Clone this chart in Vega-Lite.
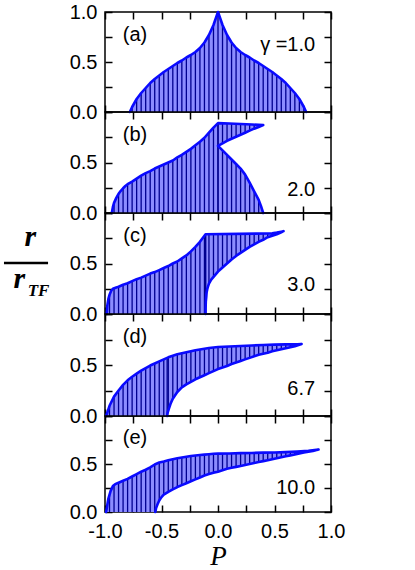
{
"$schema": "https://vega.github.io/schema/vega-lite/v6.json",
"padding": {"left": 1, "top": 1, "right": 0, "bottom": 0},
"bounds": "flush",
"spacing": 0,
"config": {
  "view": {"stroke": "black", "strokeWidth": 1.5},
  "axis": {"domain": false, "grid": false, "ticks": true, "tickColor": "black", "tickWidth": 1.5, "tickSize": -7, "labelFont": "Liberation Sans", "labelFontSize": 20, "labelColor": "black", "labelFlush": false, "labelOverlap": false},
  "axisX": {"labelPadding": 16},
  "axisY": {"labelPadding": 15},
  "text": {"font": "Liberation Sans", "fontSize": 20, "color": "black"}
},
"datasets": {
"one": [{}],
"hatch": [
{"p":"a","s":1,"P":-0.78,"lo":0,"hi":0},{"p":"a","s":1,"P":-0.76,"lo":0,"hi":0.05},{"p":"a","s":1,"P":-0.72,"lo":0,"hi":0.13},{"p":"a","s":1,"P":-0.68,"lo":0,"hi":0.19},{"p":"a","s":1,"P":-0.64,"lo":0,"hi":0.24},{"p":"a","s":1,"P":-0.6,"lo":0,"hi":0.29},{"p":"a","s":1,"P":-0.56,"lo":0,"hi":0.33},{"p":"a","s":1,"P":-0.52,"lo":0,"hi":0.365},{"p":"a","s":1,"P":-0.48,"lo":0,"hi":0.4},{"p":"a","s":1,"P":-0.44,"lo":0,"hi":0.43},{"p":"a","s":1,"P":-0.4,"lo":0,"hi":0.46},{"p":"a","s":1,"P":-0.36,"lo":0,"hi":0.49},{"p":"a","s":1,"P":-0.32,"lo":0,"hi":0.515},{"p":"a","s":1,"P":-0.28,"lo":0,"hi":0.545},{"p":"a","s":1,"P":-0.24,"lo":0,"hi":0.57},{"p":"a","s":1,"P":-0.2,"lo":0,"hi":0.6},{"p":"a","s":1,"P":-0.16,"lo":0,"hi":0.64},{"p":"a","s":1,"P":-0.12,"lo":0,"hi":0.695},{"p":"a","s":1,"P":-0.08,"lo":0,"hi":0.77},{"p":"a","s":1,"P":-0.04,"lo":0,"hi":0.87},{"p":"a","s":1,"P":0,"lo":0,"hi":1.0},{"p":"a","s":1,"P":0.04,"lo":0,"hi":0.87},{"p":"a","s":1,"P":0.08,"lo":0,"hi":0.77},{"p":"a","s":1,"P":0.12,"lo":0,"hi":0.695},{"p":"a","s":1,"P":0.16,"lo":0,"hi":0.64},{"p":"a","s":1,"P":0.2,"lo":0,"hi":0.6},{"p":"a","s":1,"P":0.24,"lo":0,"hi":0.57},{"p":"a","s":1,"P":0.28,"lo":0,"hi":0.545},{"p":"a","s":1,"P":0.32,"lo":0,"hi":0.515},{"p":"a","s":1,"P":0.36,"lo":0,"hi":0.49},{"p":"a","s":1,"P":0.4,"lo":0,"hi":0.46},{"p":"a","s":1,"P":0.44,"lo":0,"hi":0.43},{"p":"a","s":1,"P":0.48,"lo":0,"hi":0.4},{"p":"a","s":1,"P":0.52,"lo":0,"hi":0.365},{"p":"a","s":1,"P":0.56,"lo":0,"hi":0.33},{"p":"a","s":1,"P":0.6,"lo":0,"hi":0.29},{"p":"a","s":1,"P":0.64,"lo":0,"hi":0.24},{"p":"a","s":1,"P":0.68,"lo":0,"hi":0.19},{"p":"a","s":1,"P":0.72,"lo":0,"hi":0.13},{"p":"a","s":1,"P":0.76,"lo":0,"hi":0.05},{"p":"a","s":1,"P":0.78,"lo":0,"hi":0},
{"p":"b","s":1,"P":-0.94,"lo":0,"hi":0},{"p":"b","s":1,"P":-0.92,"lo":0,"hi":0.1},{"p":"b","s":1,"P":-0.88,"lo":0,"hi":0.19},{"p":"b","s":1,"P":-0.84,"lo":0,"hi":0.245},{"p":"b","s":1,"P":-0.8,"lo":0,"hi":0.285},{"p":"b","s":1,"P":-0.76,"lo":0,"hi":0.31},{"p":"b","s":1,"P":-0.72,"lo":0,"hi":0.34},{"p":"b","s":1,"P":-0.68,"lo":0,"hi":0.37},{"p":"b","s":1,"P":-0.64,"lo":0,"hi":0.395},{"p":"b","s":1,"P":-0.6,"lo":0,"hi":0.415},{"p":"b","s":1,"P":-0.56,"lo":0,"hi":0.44},{"p":"b","s":1,"P":-0.52,"lo":0,"hi":0.46},{"p":"b","s":1,"P":-0.48,"lo":0,"hi":0.48},{"p":"b","s":1,"P":-0.44,"lo":0,"hi":0.5},{"p":"b","s":1,"P":-0.4,"lo":0,"hi":0.52},{"p":"b","s":1,"P":-0.36,"lo":0,"hi":0.55},{"p":"b","s":1,"P":-0.32,"lo":0,"hi":0.575},{"p":"b","s":1,"P":-0.28,"lo":0,"hi":0.605},{"p":"b","s":1,"P":-0.24,"lo":0,"hi":0.635},{"p":"b","s":1,"P":-0.2,"lo":0,"hi":0.67},{"p":"b","s":1,"P":-0.16,"lo":0,"hi":0.705},{"p":"b","s":1,"P":-0.12,"lo":0,"hi":0.745},{"p":"b","s":1,"P":-0.08,"lo":0,"hi":0.795},{"p":"b","s":1,"P":-0.04,"lo":0,"hi":0.845},{"p":"b","s":1,"P":0,"lo":0,"hi":0.89},
{"p":"b","s":2,"P":0,"lo":0,"hi":0.665},{"p":"b","s":2,"P":0.04,"lo":0,"hi":0.62},{"p":"b","s":2,"P":0.08,"lo":0,"hi":0.575},{"p":"b","s":2,"P":0.12,"lo":0,"hi":0.53},{"p":"b","s":2,"P":0.16,"lo":0,"hi":0.485},{"p":"b","s":2,"P":0.2,"lo":0,"hi":0.44},{"p":"b","s":2,"P":0.24,"lo":0,"hi":0.38},{"p":"b","s":2,"P":0.28,"lo":0,"hi":0.3},{"p":"b","s":2,"P":0.32,"lo":0,"hi":0.215},{"p":"b","s":2,"P":0.36,"lo":0,"hi":0.13},{"p":"b","s":2,"P":0.4,"lo":0,"hi":0},
{"p":"b","s":3,"P":0,"lo":0.665,"hi":0.89},{"p":"b","s":3,"P":0.04,"lo":0.69,"hi":0.888},{"p":"b","s":3,"P":0.08,"lo":0.715,"hi":0.886},{"p":"b","s":3,"P":0.12,"lo":0.735,"hi":0.884},{"p":"b","s":3,"P":0.16,"lo":0.755,"hi":0.882},{"p":"b","s":3,"P":0.2,"lo":0.775,"hi":0.88},{"p":"b","s":3,"P":0.24,"lo":0.795,"hi":0.878},{"p":"b","s":3,"P":0.28,"lo":0.815,"hi":0.876},{"p":"b","s":3,"P":0.32,"lo":0.835,"hi":0.874},{"p":"b","s":3,"P":0.36,"lo":0.852,"hi":0.872},{"p":"b","s":3,"P":0.4,"lo":0.87,"hi":0.87},
{"p":"c","s":1,"P":-0.985,"lo":0,"hi":0},{"p":"c","s":1,"P":-0.96,"lo":0,"hi":0.19},{"p":"c","s":1,"P":-0.92,"lo":0,"hi":0.255},{"p":"c","s":1,"P":-0.88,"lo":0,"hi":0.27},{"p":"c","s":1,"P":-0.84,"lo":0,"hi":0.29},{"p":"c","s":1,"P":-0.8,"lo":0,"hi":0.305},{"p":"c","s":1,"P":-0.76,"lo":0,"hi":0.325},{"p":"c","s":1,"P":-0.72,"lo":0,"hi":0.345},{"p":"c","s":1,"P":-0.68,"lo":0,"hi":0.36},{"p":"c","s":1,"P":-0.64,"lo":0,"hi":0.38},{"p":"c","s":1,"P":-0.6,"lo":0,"hi":0.4},{"p":"c","s":1,"P":-0.56,"lo":0,"hi":0.415},{"p":"c","s":1,"P":-0.52,"lo":0,"hi":0.435},{"p":"c","s":1,"P":-0.48,"lo":0,"hi":0.455},{"p":"c","s":1,"P":-0.44,"lo":0,"hi":0.475},{"p":"c","s":1,"P":-0.4,"lo":0,"hi":0.5},{"p":"c","s":1,"P":-0.36,"lo":0,"hi":0.52},{"p":"c","s":1,"P":-0.32,"lo":0,"hi":0.55},{"p":"c","s":1,"P":-0.28,"lo":0,"hi":0.58},{"p":"c","s":1,"P":-0.24,"lo":0,"hi":0.62},{"p":"c","s":1,"P":-0.2,"lo":0,"hi":0.665},{"p":"c","s":1,"P":-0.16,"lo":0,"hi":0.715},{"p":"c","s":1,"P":-0.12,"lo":0,"hi":0.775},{"p":"c","s":1,"P":-0.11,"lo":0,"hi":0.79},
{"p":"c","s":2,"P":-0.11,"lo":0,"hi":0.79},{"p":"c","s":2,"P":-0.08,"lo":0.3,"hi":0.79},{"p":"c","s":2,"P":-0.04,"lo":0.365,"hi":0.79},{"p":"c","s":2,"P":0,"lo":0.42,"hi":0.79},{"p":"c","s":2,"P":0.04,"lo":0.46,"hi":0.79},{"p":"c","s":2,"P":0.08,"lo":0.5,"hi":0.791},{"p":"c","s":2,"P":0.12,"lo":0.54,"hi":0.791},{"p":"c","s":2,"P":0.16,"lo":0.575,"hi":0.792},{"p":"c","s":2,"P":0.2,"lo":0.605,"hi":0.792},{"p":"c","s":2,"P":0.24,"lo":0.635,"hi":0.793},{"p":"c","s":2,"P":0.28,"lo":0.665,"hi":0.793},{"p":"c","s":2,"P":0.32,"lo":0.69,"hi":0.794},{"p":"c","s":2,"P":0.36,"lo":0.715,"hi":0.794},{"p":"c","s":2,"P":0.4,"lo":0.735,"hi":0.795},{"p":"c","s":2,"P":0.44,"lo":0.76,"hi":0.797},{"p":"c","s":2,"P":0.48,"lo":0.775,"hi":0.8},{"p":"c","s":2,"P":0.52,"lo":0.79,"hi":0.806},{"p":"c","s":2,"P":0.56,"lo":0.81,"hi":0.815},{"p":"c","s":2,"P":0.58,"lo":0.82,"hi":0.82},
{"p":"d","s":1,"P":-0.99,"lo":0,"hi":0},{"p":"d","s":1,"P":-0.96,"lo":0,"hi":0.1},{"p":"d","s":1,"P":-0.92,"lo":0,"hi":0.19},{"p":"d","s":1,"P":-0.88,"lo":0,"hi":0.25},{"p":"d","s":1,"P":-0.84,"lo":0,"hi":0.305},{"p":"d","s":1,"P":-0.8,"lo":0,"hi":0.35},{"p":"d","s":1,"P":-0.76,"lo":0,"hi":0.385},{"p":"d","s":1,"P":-0.72,"lo":0,"hi":0.415},{"p":"d","s":1,"P":-0.68,"lo":0,"hi":0.445},{"p":"d","s":1,"P":-0.64,"lo":0,"hi":0.47},{"p":"d","s":1,"P":-0.6,"lo":0,"hi":0.495},{"p":"d","s":1,"P":-0.56,"lo":0,"hi":0.515},{"p":"d","s":1,"P":-0.52,"lo":0,"hi":0.535},{"p":"d","s":1,"P":-0.48,"lo":0,"hi":0.555},{"p":"d","s":1,"P":-0.45,"lo":0,"hi":0.57},{"p":"d","s":1,"P":-0.44,"lo":0.05,"hi":0.575},{"p":"d","s":1,"P":-0.4,"lo":0.17,"hi":0.59},{"p":"d","s":1,"P":-0.36,"lo":0.235,"hi":0.605},{"p":"d","s":1,"P":-0.32,"lo":0.28,"hi":0.615},{"p":"d","s":1,"P":-0.28,"lo":0.31,"hi":0.625},{"p":"d","s":1,"P":-0.24,"lo":0.335,"hi":0.635},{"p":"d","s":1,"P":-0.2,"lo":0.36,"hi":0.645},{"p":"d","s":1,"P":-0.16,"lo":0.38,"hi":0.652},{"p":"d","s":1,"P":-0.12,"lo":0.4,"hi":0.66},{"p":"d","s":1,"P":-0.08,"lo":0.42,"hi":0.667},{"p":"d","s":1,"P":-0.04,"lo":0.44,"hi":0.672},{"p":"d","s":1,"P":0,"lo":0.46,"hi":0.676},{"p":"d","s":1,"P":0.04,"lo":0.475,"hi":0.678},{"p":"d","s":1,"P":0.08,"lo":0.49,"hi":0.68},{"p":"d","s":1,"P":0.12,"lo":0.51,"hi":0.682},{"p":"d","s":1,"P":0.16,"lo":0.525,"hi":0.684},{"p":"d","s":1,"P":0.2,"lo":0.54,"hi":0.686},{"p":"d","s":1,"P":0.24,"lo":0.555,"hi":0.688},{"p":"d","s":1,"P":0.28,"lo":0.57,"hi":0.69},{"p":"d","s":1,"P":0.32,"lo":0.585,"hi":0.692},{"p":"d","s":1,"P":0.36,"lo":0.6,"hi":0.694},{"p":"d","s":1,"P":0.4,"lo":0.61,"hi":0.696},{"p":"d","s":1,"P":0.44,"lo":0.62,"hi":0.698},{"p":"d","s":1,"P":0.48,"lo":0.635,"hi":0.7},{"p":"d","s":1,"P":0.52,"lo":0.645,"hi":0.7},{"p":"d","s":1,"P":0.56,"lo":0.655,"hi":0.701},{"p":"d","s":1,"P":0.6,"lo":0.665,"hi":0.702},{"p":"d","s":1,"P":0.64,"lo":0.675,"hi":0.703},{"p":"d","s":1,"P":0.68,"lo":0.685,"hi":0.704},{"p":"d","s":1,"P":0.72,"lo":0.698,"hi":0.705},{"p":"d","s":1,"P":0.74,"lo":0.705,"hi":0.705},
{"p":"e","s":1,"P":-0.99,"lo":0,"hi":0},{"p":"e","s":1,"P":-0.96,"lo":0,"hi":0.18},{"p":"e","s":1,"P":-0.92,"lo":0,"hi":0.28},{"p":"e","s":1,"P":-0.88,"lo":0,"hi":0.305},{"p":"e","s":1,"P":-0.84,"lo":0,"hi":0.325},{"p":"e","s":1,"P":-0.8,"lo":0,"hi":0.345},{"p":"e","s":1,"P":-0.76,"lo":0,"hi":0.37},{"p":"e","s":1,"P":-0.72,"lo":0,"hi":0.395},{"p":"e","s":1,"P":-0.68,"lo":0,"hi":0.42},{"p":"e","s":1,"P":-0.64,"lo":0,"hi":0.44},{"p":"e","s":1,"P":-0.6,"lo":0,"hi":0.465},{"p":"e","s":1,"P":-0.56,"lo":0,"hi":0.495},{"p":"e","s":1,"P":-0.52,"lo":0.12,"hi":0.515},{"p":"e","s":1,"P":-0.48,"lo":0.18,"hi":0.525},{"p":"e","s":1,"P":-0.44,"lo":0.21,"hi":0.538},{"p":"e","s":1,"P":-0.4,"lo":0.235,"hi":0.55},{"p":"e","s":1,"P":-0.36,"lo":0.26,"hi":0.56},{"p":"e","s":1,"P":-0.32,"lo":0.28,"hi":0.567},{"p":"e","s":1,"P":-0.28,"lo":0.3,"hi":0.575},{"p":"e","s":1,"P":-0.24,"lo":0.32,"hi":0.583},{"p":"e","s":1,"P":-0.2,"lo":0.34,"hi":0.588},{"p":"e","s":1,"P":-0.16,"lo":0.36,"hi":0.593},{"p":"e","s":1,"P":-0.12,"lo":0.38,"hi":0.598},{"p":"e","s":1,"P":-0.08,"lo":0.395,"hi":0.602},{"p":"e","s":1,"P":-0.04,"lo":0.41,"hi":0.606},{"p":"e","s":1,"P":0,"lo":0.42,"hi":0.608},{"p":"e","s":1,"P":0.04,"lo":0.435,"hi":0.609},{"p":"e","s":1,"P":0.08,"lo":0.45,"hi":0.61},{"p":"e","s":1,"P":0.12,"lo":0.46,"hi":0.611},{"p":"e","s":1,"P":0.16,"lo":0.47,"hi":0.612},{"p":"e","s":1,"P":0.2,"lo":0.48,"hi":0.613},{"p":"e","s":1,"P":0.24,"lo":0.49,"hi":0.614},{"p":"e","s":1,"P":0.28,"lo":0.5,"hi":0.615},{"p":"e","s":1,"P":0.32,"lo":0.51,"hi":0.616},{"p":"e","s":1,"P":0.36,"lo":0.52,"hi":0.617},{"p":"e","s":1,"P":0.4,"lo":0.53,"hi":0.618},{"p":"e","s":1,"P":0.44,"lo":0.54,"hi":0.619},{"p":"e","s":1,"P":0.48,"lo":0.55,"hi":0.62},{"p":"e","s":1,"P":0.52,"lo":0.56,"hi":0.621},{"p":"e","s":1,"P":0.56,"lo":0.57,"hi":0.622},{"p":"e","s":1,"P":0.6,"lo":0.58,"hi":0.624},{"p":"e","s":1,"P":0.64,"lo":0.59,"hi":0.626},{"p":"e","s":1,"P":0.68,"lo":0.6,"hi":0.628},{"p":"e","s":1,"P":0.72,"lo":0.61,"hi":0.631},{"p":"e","s":1,"P":0.76,"lo":0.62,"hi":0.634},{"p":"e","s":1,"P":0.8,"lo":0.628,"hi":0.638},{"p":"e","s":1,"P":0.84,"lo":0.636,"hi":0.643},{"p":"e","s":1,"P":0.88,"lo":0.646,"hi":0.648},{"p":"e","s":1,"P":0.89,"lo":0.65,"hi":0.65}
],
"outline": [
{"p":"a","P":-0.78,"r":0},{"p":"a","P":-0.76,"r":0.05},{"p":"a","P":-0.72,"r":0.13},{"p":"a","P":-0.68,"r":0.19},{"p":"a","P":-0.64,"r":0.24},{"p":"a","P":-0.6,"r":0.29},{"p":"a","P":-0.56,"r":0.33},{"p":"a","P":-0.52,"r":0.365},{"p":"a","P":-0.48,"r":0.4},{"p":"a","P":-0.44,"r":0.43},{"p":"a","P":-0.4,"r":0.46},{"p":"a","P":-0.36,"r":0.49},{"p":"a","P":-0.32,"r":0.515},{"p":"a","P":-0.28,"r":0.545},{"p":"a","P":-0.24,"r":0.57},{"p":"a","P":-0.2,"r":0.6},{"p":"a","P":-0.16,"r":0.64},{"p":"a","P":-0.12,"r":0.695},{"p":"a","P":-0.08,"r":0.77},{"p":"a","P":-0.04,"r":0.87},{"p":"a","P":0,"r":1.0},{"p":"a","P":0.04,"r":0.87},{"p":"a","P":0.08,"r":0.77},{"p":"a","P":0.12,"r":0.695},{"p":"a","P":0.16,"r":0.64},{"p":"a","P":0.2,"r":0.6},{"p":"a","P":0.24,"r":0.57},{"p":"a","P":0.28,"r":0.545},{"p":"a","P":0.32,"r":0.515},{"p":"a","P":0.36,"r":0.49},{"p":"a","P":0.4,"r":0.46},{"p":"a","P":0.44,"r":0.43},{"p":"a","P":0.48,"r":0.4},{"p":"a","P":0.52,"r":0.365},{"p":"a","P":0.56,"r":0.33},{"p":"a","P":0.6,"r":0.29},{"p":"a","P":0.64,"r":0.24},{"p":"a","P":0.68,"r":0.19},{"p":"a","P":0.72,"r":0.13},{"p":"a","P":0.76,"r":0.05},{"p":"a","P":0.78,"r":0},
{"p":"b","P":-0.94,"r":0},{"p":"b","P":-0.93,"r":0.06},{"p":"b","P":-0.92,"r":0.1},{"p":"b","P":-0.9,"r":0.15},{"p":"b","P":-0.88,"r":0.19},{"p":"b","P":-0.86,"r":0.22},{"p":"b","P":-0.84,"r":0.245},{"p":"b","P":-0.82,"r":0.267},{"p":"b","P":-0.8,"r":0.285},{"p":"b","P":-0.76,"r":0.31},{"p":"b","P":-0.72,"r":0.34},{"p":"b","P":-0.68,"r":0.37},{"p":"b","P":-0.64,"r":0.395},{"p":"b","P":-0.6,"r":0.415},{"p":"b","P":-0.56,"r":0.44},{"p":"b","P":-0.52,"r":0.46},{"p":"b","P":-0.48,"r":0.48},{"p":"b","P":-0.44,"r":0.5},{"p":"b","P":-0.4,"r":0.52},{"p":"b","P":-0.36,"r":0.55},{"p":"b","P":-0.32,"r":0.575},{"p":"b","P":-0.28,"r":0.605},{"p":"b","P":-0.24,"r":0.635},{"p":"b","P":-0.2,"r":0.67},{"p":"b","P":-0.16,"r":0.705},{"p":"b","P":-0.12,"r":0.745},{"p":"b","P":-0.08,"r":0.795},{"p":"b","P":-0.04,"r":0.845},{"p":"b","P":0,"r":0.89},{"p":"b","P":0.1,"r":0.886},{"p":"b","P":0.2,"r":0.881},{"p":"b","P":0.3,"r":0.876},{"p":"b","P":0.4,"r":0.87},{"p":"b","P":0.36,"r":0.852},{"p":"b","P":0.32,"r":0.835},{"p":"b","P":0.28,"r":0.815},{"p":"b","P":0.24,"r":0.795},{"p":"b","P":0.2,"r":0.775},{"p":"b","P":0.16,"r":0.755},{"p":"b","P":0.12,"r":0.735},{"p":"b","P":0.08,"r":0.715},{"p":"b","P":0.04,"r":0.69},{"p":"b","P":0,"r":0.665},{"p":"b","P":0.04,"r":0.62},{"p":"b","P":0.08,"r":0.575},{"p":"b","P":0.12,"r":0.53},{"p":"b","P":0.16,"r":0.485},{"p":"b","P":0.2,"r":0.44},{"p":"b","P":0.24,"r":0.38},{"p":"b","P":0.28,"r":0.3},{"p":"b","P":0.32,"r":0.215},{"p":"b","P":0.36,"r":0.13},{"p":"b","P":0.38,"r":0.07},{"p":"b","P":0.4,"r":0},
{"p":"c","P":-0.985,"r":0},{"p":"c","P":-0.98,"r":0.08},{"p":"c","P":-0.97,"r":0.15},{"p":"c","P":-0.96,"r":0.19},{"p":"c","P":-0.945,"r":0.23},{"p":"c","P":-0.93,"r":0.25},{"p":"c","P":-0.9,"r":0.263},{"p":"c","P":-0.88,"r":0.27},{"p":"c","P":-0.84,"r":0.29},{"p":"c","P":-0.8,"r":0.305},{"p":"c","P":-0.76,"r":0.325},{"p":"c","P":-0.72,"r":0.345},{"p":"c","P":-0.68,"r":0.36},{"p":"c","P":-0.64,"r":0.38},{"p":"c","P":-0.6,"r":0.4},{"p":"c","P":-0.56,"r":0.415},{"p":"c","P":-0.52,"r":0.435},{"p":"c","P":-0.48,"r":0.455},{"p":"c","P":-0.44,"r":0.475},{"p":"c","P":-0.4,"r":0.5},{"p":"c","P":-0.36,"r":0.52},{"p":"c","P":-0.32,"r":0.55},{"p":"c","P":-0.28,"r":0.58},{"p":"c","P":-0.24,"r":0.62},{"p":"c","P":-0.2,"r":0.665},{"p":"c","P":-0.16,"r":0.715},{"p":"c","P":-0.12,"r":0.775},{"p":"c","P":-0.11,"r":0.79},{"p":"c","P":0.44,"r":0.797},{"p":"c","P":0.48,"r":0.8},{"p":"c","P":0.52,"r":0.806},{"p":"c","P":0.56,"r":0.815},{"p":"c","P":0.58,"r":0.82},{"p":"c","P":0.56,"r":0.81},{"p":"c","P":0.52,"r":0.79},{"p":"c","P":0.48,"r":0.775},{"p":"c","P":0.44,"r":0.76},{"p":"c","P":0.4,"r":0.735},{"p":"c","P":0.36,"r":0.715},{"p":"c","P":0.32,"r":0.69},{"p":"c","P":0.28,"r":0.665},{"p":"c","P":0.24,"r":0.635},{"p":"c","P":0.2,"r":0.605},{"p":"c","P":0.16,"r":0.575},{"p":"c","P":0.12,"r":0.54},{"p":"c","P":0.08,"r":0.5},{"p":"c","P":0.04,"r":0.46},{"p":"c","P":0,"r":0.42},{"p":"c","P":-0.03,"r":0.38},{"p":"c","P":-0.06,"r":0.34},{"p":"c","P":-0.08,"r":0.3},{"p":"c","P":-0.095,"r":0.25},{"p":"c","P":-0.103,"r":0.2},{"p":"c","P":-0.108,"r":0.12},{"p":"c","P":-0.11,"r":0.05},{"p":"c","P":-0.11,"r":0},
{"p":"d","P":-0.99,"r":0},{"p":"d","P":-0.96,"r":0.1},{"p":"d","P":-0.92,"r":0.19},{"p":"d","P":-0.88,"r":0.25},{"p":"d","P":-0.84,"r":0.305},{"p":"d","P":-0.8,"r":0.35},{"p":"d","P":-0.76,"r":0.385},{"p":"d","P":-0.72,"r":0.415},{"p":"d","P":-0.68,"r":0.445},{"p":"d","P":-0.64,"r":0.47},{"p":"d","P":-0.6,"r":0.495},{"p":"d","P":-0.56,"r":0.515},{"p":"d","P":-0.52,"r":0.535},{"p":"d","P":-0.48,"r":0.555},{"p":"d","P":-0.44,"r":0.575},{"p":"d","P":-0.4,"r":0.59},{"p":"d","P":-0.36,"r":0.605},{"p":"d","P":-0.32,"r":0.615},{"p":"d","P":-0.28,"r":0.625},{"p":"d","P":-0.24,"r":0.635},{"p":"d","P":-0.2,"r":0.645},{"p":"d","P":-0.16,"r":0.652},{"p":"d","P":-0.12,"r":0.66},{"p":"d","P":-0.08,"r":0.667},{"p":"d","P":-0.04,"r":0.672},{"p":"d","P":0,"r":0.676},{"p":"d","P":0.1,"r":0.681},{"p":"d","P":0.2,"r":0.686},{"p":"d","P":0.3,"r":0.691},{"p":"d","P":0.4,"r":0.696},{"p":"d","P":0.5,"r":0.7},{"p":"d","P":0.6,"r":0.702},{"p":"d","P":0.7,"r":0.704},{"p":"d","P":0.74,"r":0.705},{"p":"d","P":0.72,"r":0.698},{"p":"d","P":0.68,"r":0.685},{"p":"d","P":0.64,"r":0.675},{"p":"d","P":0.6,"r":0.665},{"p":"d","P":0.56,"r":0.655},{"p":"d","P":0.52,"r":0.645},{"p":"d","P":0.48,"r":0.635},{"p":"d","P":0.44,"r":0.62},{"p":"d","P":0.4,"r":0.61},{"p":"d","P":0.36,"r":0.6},{"p":"d","P":0.32,"r":0.585},{"p":"d","P":0.28,"r":0.57},{"p":"d","P":0.24,"r":0.555},{"p":"d","P":0.2,"r":0.54},{"p":"d","P":0.16,"r":0.525},{"p":"d","P":0.12,"r":0.51},{"p":"d","P":0.08,"r":0.49},{"p":"d","P":0.04,"r":0.475},{"p":"d","P":0,"r":0.46},{"p":"d","P":-0.04,"r":0.44},{"p":"d","P":-0.08,"r":0.42},{"p":"d","P":-0.12,"r":0.4},{"p":"d","P":-0.16,"r":0.38},{"p":"d","P":-0.2,"r":0.36},{"p":"d","P":-0.24,"r":0.335},{"p":"d","P":-0.28,"r":0.31},{"p":"d","P":-0.32,"r":0.28},{"p":"d","P":-0.36,"r":0.235},{"p":"d","P":-0.4,"r":0.17},{"p":"d","P":-0.42,"r":0.12},{"p":"d","P":-0.435,"r":0.07},{"p":"d","P":-0.445,"r":0.035},{"p":"d","P":-0.45,"r":0},
{"p":"e","P":-0.99,"r":0},{"p":"e","P":-0.98,"r":0.07},{"p":"e","P":-0.97,"r":0.14},{"p":"e","P":-0.95,"r":0.22},{"p":"e","P":-0.93,"r":0.27},{"p":"e","P":-0.91,"r":0.29},{"p":"e","P":-0.88,"r":0.305},{"p":"e","P":-0.84,"r":0.325},{"p":"e","P":-0.8,"r":0.345},{"p":"e","P":-0.76,"r":0.37},{"p":"e","P":-0.72,"r":0.395},{"p":"e","P":-0.68,"r":0.42},{"p":"e","P":-0.64,"r":0.44},{"p":"e","P":-0.6,"r":0.465},{"p":"e","P":-0.56,"r":0.495},{"p":"e","P":-0.52,"r":0.515},{"p":"e","P":-0.48,"r":0.525},{"p":"e","P":-0.44,"r":0.538},{"p":"e","P":-0.4,"r":0.55},{"p":"e","P":-0.36,"r":0.56},{"p":"e","P":-0.32,"r":0.567},{"p":"e","P":-0.28,"r":0.575},{"p":"e","P":-0.24,"r":0.583},{"p":"e","P":-0.2,"r":0.588},{"p":"e","P":-0.16,"r":0.593},{"p":"e","P":-0.12,"r":0.598},{"p":"e","P":-0.08,"r":0.602},{"p":"e","P":-0.04,"r":0.606},{"p":"e","P":0,"r":0.608},{"p":"e","P":0.1,"r":0.61},{"p":"e","P":0.2,"r":0.613},{"p":"e","P":0.3,"r":0.615},{"p":"e","P":0.4,"r":0.618},{"p":"e","P":0.5,"r":0.62},{"p":"e","P":0.6,"r":0.624},{"p":"e","P":0.7,"r":0.63},{"p":"e","P":0.8,"r":0.638},{"p":"e","P":0.89,"r":0.65},{"p":"e","P":0.84,"r":0.636},{"p":"e","P":0.8,"r":0.628},{"p":"e","P":0.76,"r":0.62},{"p":"e","P":0.72,"r":0.61},{"p":"e","P":0.68,"r":0.6},{"p":"e","P":0.64,"r":0.59},{"p":"e","P":0.6,"r":0.58},{"p":"e","P":0.56,"r":0.57},{"p":"e","P":0.52,"r":0.56},{"p":"e","P":0.48,"r":0.55},{"p":"e","P":0.44,"r":0.54},{"p":"e","P":0.4,"r":0.53},{"p":"e","P":0.36,"r":0.52},{"p":"e","P":0.32,"r":0.51},{"p":"e","P":0.28,"r":0.5},{"p":"e","P":0.24,"r":0.49},{"p":"e","P":0.2,"r":0.48},{"p":"e","P":0.16,"r":0.47},{"p":"e","P":0.12,"r":0.46},{"p":"e","P":0.08,"r":0.45},{"p":"e","P":0.04,"r":0.435},{"p":"e","P":0,"r":0.42},{"p":"e","P":-0.04,"r":0.41},{"p":"e","P":-0.08,"r":0.395},{"p":"e","P":-0.12,"r":0.38},{"p":"e","P":-0.16,"r":0.36},{"p":"e","P":-0.2,"r":0.34},{"p":"e","P":-0.24,"r":0.32},{"p":"e","P":-0.28,"r":0.3},{"p":"e","P":-0.32,"r":0.28},{"p":"e","P":-0.36,"r":0.26},{"p":"e","P":-0.4,"r":0.235},{"p":"e","P":-0.44,"r":0.21},{"p":"e","P":-0.48,"r":0.18},{"p":"e","P":-0.5,"r":0.155},{"p":"e","P":-0.52,"r":0.12},{"p":"e","P":-0.535,"r":0.08},{"p":"e","P":-0.548,"r":0.04},{"p":"e","P":-0.555,"r":0}
]
},
"vconcat": [
{
 "width": 226, "height": 100,
 "layer": [
  {"data": {"name": "hatch"}, "transform": [{"filter": "datum.p=='a'"}], "mark": {"type": "area", "color": "#8c8cff"},
   "encoding": {"x": {"field": "P", "type": "quantitative", "scale": {"domain": [-1, 1]}, "axis": {"orient": "bottom", "values": [-1,-0.75,-0.5,-0.25,0,0.25,0.5,0.75,1], "labels": false, "title": null}},
    "y": {"field": "lo", "type": "quantitative", "scale": {"domain": [0, 1]}, "axis": {"orient": "left", "values": [0,0.25,0.5,0.75,1], "labelExpr": "datum.value==0||datum.value==0.5||datum.value==1 ? format(datum.value,'.1f') : ''", "title": null}},
    "y2": {"field": "hi"}, "detail": {"field": "s", "type": "nominal"}}},
  {"data": {"name": "hatch"}, "transform": [{"filter": "datum.p=='a'"}], "mark": {"type": "rule", "color": "#000090", "strokeWidth": 1.3},
   "encoding": {"x": {"field": "P", "type": "quantitative", "scale": {"domain": [-1, 1]}, "axis": {"orient": "top", "values": [-1,-0.75,-0.5,-0.25,0,0.25,0.5,0.75,1], "labels": false, "title": null}},
    "y": {"field": "lo", "type": "quantitative", "scale": {"domain": [0, 1]}, "axis": {"orient": "right", "values": [0,0.25,0.5,0.75,1], "labels": false, "title": null}},
    "y2": {"field": "hi"}}},
  {"data": {"name": "outline"}, "transform": [{"filter": "datum.p=='a'"}], "mark": {"type": "line", "color": "#0a0aff", "strokeWidth": 2.6, "strokeJoin": "round", "strokeCap": "round"},
   "encoding": {"x": {"field": "P", "type": "quantitative", "scale": {"domain": [-1, 1]}, "axis": null}, "y": {"field": "r", "type": "quantitative", "scale": {"domain": [0, 1]}, "axis": null}, "order": {"value": null}}},
  {"data": {"name": "one"}, "mark": {"type": "text", "align": "center", "baseline": "middle"},
   "encoding": {"x": {"datum": -0.735, "type": "quantitative", "scale": {"domain": [-1, 1]}, "axis": null}, "y": {"datum": 0.77, "type": "quantitative", "scale": {"domain": [0, 1]}, "axis": null}, "text": {"value": "(a)"}}},
  {"data": {"name": "one"}, "mark": {"type": "text", "align": "right", "baseline": "middle"},
   "encoding": {"x": {"datum": 0.86, "type": "quantitative", "scale": {"domain": [-1, 1]}, "axis": null}, "y": {"datum": 0.675, "type": "quantitative", "scale": {"domain": [0, 1]}, "axis": null}, "text": {"value": "γ =1.0"}}}
 ],
 "resolve": {"axis": {"x": "independent", "y": "independent"}}
},
{
 "width": 226, "height": 101,
 "layer": [
  {"data": {"name": "hatch"}, "transform": [{"filter": "datum.p=='b'"}], "mark": {"type": "area", "color": "#8c8cff"},
   "encoding": {"x": {"field": "P", "type": "quantitative", "scale": {"domain": [-1, 1]}, "axis": {"orient": "bottom", "values": [-1,-0.75,-0.5,-0.25,0,0.25,0.5,0.75,1], "labels": false, "title": null}},
    "y": {"field": "lo", "type": "quantitative", "scale": {"domain": [0, 1]}, "axis": {"orient": "left", "values": [0,0.25,0.5,0.75,1], "labelExpr": "datum.value==0||datum.value==0.5 ? format(datum.value,'.1f') : ''", "title": null}},
    "y2": {"field": "hi"}, "detail": {"field": "s", "type": "nominal"}}},
  {"data": {"name": "hatch"}, "transform": [{"filter": "datum.p=='b'"}], "mark": {"type": "rule", "color": "#000090", "strokeWidth": 1.3},
   "encoding": {"x": {"field": "P", "type": "quantitative", "scale": {"domain": [-1, 1]}, "axis": {"orient": "top", "values": [-1,-0.75,-0.5,-0.25,0,0.25,0.5,0.75,1], "labels": false, "title": null}},
    "y": {"field": "lo", "type": "quantitative", "scale": {"domain": [0, 1]}, "axis": {"orient": "right", "values": [0,0.25,0.5,0.75,1], "labels": false, "title": null}},
    "y2": {"field": "hi"}}},
  {"data": {"name": "outline"}, "transform": [{"filter": "datum.p=='b'"}], "mark": {"type": "line", "color": "#0a0aff", "strokeWidth": 2.6, "strokeJoin": "round", "strokeCap": "round"},
   "encoding": {"x": {"field": "P", "type": "quantitative", "scale": {"domain": [-1, 1]}, "axis": null}, "y": {"field": "r", "type": "quantitative", "scale": {"domain": [0, 1]}, "axis": null}, "order": {"value": null}}},
  {"data": {"name": "one"}, "mark": {"type": "text", "align": "center", "baseline": "middle"},
   "encoding": {"x": {"datum": -0.735, "type": "quantitative", "scale": {"domain": [-1, 1]}, "axis": null}, "y": {"datum": 0.77, "type": "quantitative", "scale": {"domain": [0, 1]}, "axis": null}, "text": {"value": "(b)"}}},
  {"data": {"name": "one"}, "mark": {"type": "text", "align": "right", "baseline": "middle"},
   "encoding": {"x": {"datum": 0.86, "type": "quantitative", "scale": {"domain": [-1, 1]}, "axis": null}, "y": {"datum": 0.23, "type": "quantitative", "scale": {"domain": [0, 1]}, "axis": null}, "text": {"value": "2.0"}}}
 ],
 "resolve": {"axis": {"x": "independent", "y": "independent"}}
},
{
 "width": 226, "height": 101,
 "layer": [
  {"data": {"name": "hatch"}, "transform": [{"filter": "datum.p=='c'"}], "mark": {"type": "area", "color": "#8c8cff"},
   "encoding": {"x": {"field": "P", "type": "quantitative", "scale": {"domain": [-1, 1]}, "axis": {"orient": "bottom", "values": [-1,-0.75,-0.5,-0.25,0,0.25,0.5,0.75,1], "labels": false, "title": null}},
    "y": {"field": "lo", "type": "quantitative", "scale": {"domain": [0, 1]}, "axis": {"orient": "left", "values": [0,0.25,0.5,0.75,1], "labelExpr": "datum.value==0||datum.value==0.5 ? format(datum.value,'.1f') : ''", "title": null}},
    "y2": {"field": "hi"}, "detail": {"field": "s", "type": "nominal"}}},
  {"data": {"name": "hatch"}, "transform": [{"filter": "datum.p=='c'"}], "mark": {"type": "rule", "color": "#000090", "strokeWidth": 1.3},
   "encoding": {"x": {"field": "P", "type": "quantitative", "scale": {"domain": [-1, 1]}, "axis": {"orient": "top", "values": [-1,-0.75,-0.5,-0.25,0,0.25,0.5,0.75,1], "labels": false, "title": null}},
    "y": {"field": "lo", "type": "quantitative", "scale": {"domain": [0, 1]}, "axis": {"orient": "right", "values": [0,0.25,0.5,0.75,1], "labels": false, "title": null}},
    "y2": {"field": "hi"}}},
  {"data": {"name": "outline"}, "transform": [{"filter": "datum.p=='c'"}], "mark": {"type": "line", "color": "#0a0aff", "strokeWidth": 2.6, "strokeJoin": "round", "strokeCap": "round"},
   "encoding": {"x": {"field": "P", "type": "quantitative", "scale": {"domain": [-1, 1]}, "axis": null}, "y": {"field": "r", "type": "quantitative", "scale": {"domain": [0, 1]}, "axis": null}, "order": {"value": null}}},
  {"data": {"name": "one"}, "mark": {"type": "text", "align": "center", "baseline": "middle"},
   "encoding": {"x": {"datum": -0.735, "type": "quantitative", "scale": {"domain": [-1, 1]}, "axis": null}, "y": {"datum": 0.77, "type": "quantitative", "scale": {"domain": [0, 1]}, "axis": null}, "text": {"value": "(c)"}}},
  {"data": {"name": "one"}, "mark": {"type": "text", "align": "right", "baseline": "middle"},
   "encoding": {"x": {"datum": 0.86, "type": "quantitative", "scale": {"domain": [-1, 1]}, "axis": null}, "y": {"datum": 0.29, "type": "quantitative", "scale": {"domain": [0, 1]}, "axis": null}, "text": {"value": "3.0"}}},
  {"data": {"name": "one"}, "mark": {"type": "text", "align": "center", "baseline": "alphabetic", "font": "Liberation Serif", "fontStyle": "italic", "fontWeight": "bold", "fontSize": 30},
   "encoding": {"x": {"datum": -1.66, "type": "quantitative", "scale": {"domain": [-1, 1]}, "axis": null}, "y": {"datum": 0.673, "type": "quantitative", "scale": {"domain": [0, 1]}, "axis": null}, "text": {"value": "r"}}},
  {"data": {"name": "one"}, "mark": {"type": "rule", "color": "black", "strokeWidth": 2.5},
   "encoding": {"x": {"datum": -1.894, "type": "quantitative", "scale": {"domain": [-1, 1]}, "axis": null}, "x2": {"datum": -1.504}, "y": {"datum": 0.505, "type": "quantitative", "scale": {"domain": [0, 1]}, "axis": null}}},
  {"data": {"name": "one"}, "mark": {"type": "text", "align": "center", "baseline": "alphabetic", "font": "Liberation Serif", "fontStyle": "italic", "fontWeight": "bold", "fontSize": 30},
   "encoding": {"x": {"datum": -1.757, "type": "quantitative", "scale": {"domain": [-1, 1]}, "axis": null}, "y": {"datum": 0.257, "type": "quantitative", "scale": {"domain": [0, 1]}, "axis": null}, "text": {"value": "r"}}},
  {"data": {"name": "one"}, "mark": {"type": "text", "align": "center", "baseline": "alphabetic", "font": "Liberation Serif", "fontStyle": "italic", "fontWeight": "bold", "fontSize": 17},
   "encoding": {"x": {"datum": -1.588, "type": "quantitative", "scale": {"domain": [-1, 1]}, "axis": null}, "y": {"datum": 0.178, "type": "quantitative", "scale": {"domain": [0, 1]}, "axis": null}, "text": {"value": "TF"}}}
 ],
 "resolve": {"axis": {"x": "independent", "y": "independent"}}
},
{
 "width": 226, "height": 102,
 "layer": [
  {"data": {"name": "hatch"}, "transform": [{"filter": "datum.p=='d'"}], "mark": {"type": "area", "color": "#8c8cff"},
   "encoding": {"x": {"field": "P", "type": "quantitative", "scale": {"domain": [-1, 1]}, "axis": {"orient": "bottom", "values": [-1,-0.75,-0.5,-0.25,0,0.25,0.5,0.75,1], "labels": false, "title": null}},
    "y": {"field": "lo", "type": "quantitative", "scale": {"domain": [0, 1]}, "axis": {"orient": "left", "values": [0,0.25,0.5,0.75,1], "labelExpr": "datum.value==0||datum.value==0.5 ? format(datum.value,'.1f') : ''", "title": null}},
    "y2": {"field": "hi"}, "detail": {"field": "s", "type": "nominal"}}},
  {"data": {"name": "hatch"}, "transform": [{"filter": "datum.p=='d'"}], "mark": {"type": "rule", "color": "#000090", "strokeWidth": 1.3},
   "encoding": {"x": {"field": "P", "type": "quantitative", "scale": {"domain": [-1, 1]}, "axis": {"orient": "top", "values": [-1,-0.75,-0.5,-0.25,0,0.25,0.5,0.75,1], "labels": false, "title": null}},
    "y": {"field": "lo", "type": "quantitative", "scale": {"domain": [0, 1]}, "axis": {"orient": "right", "values": [0,0.25,0.5,0.75,1], "labels": false, "title": null}},
    "y2": {"field": "hi"}}},
  {"data": {"name": "outline"}, "transform": [{"filter": "datum.p=='d'"}], "mark": {"type": "line", "color": "#0a0aff", "strokeWidth": 2.6, "strokeJoin": "round", "strokeCap": "round"},
   "encoding": {"x": {"field": "P", "type": "quantitative", "scale": {"domain": [-1, 1]}, "axis": null}, "y": {"field": "r", "type": "quantitative", "scale": {"domain": [0, 1]}, "axis": null}, "order": {"value": null}}},
  {"data": {"name": "one"}, "mark": {"type": "text", "align": "center", "baseline": "middle"},
   "encoding": {"x": {"datum": -0.735, "type": "quantitative", "scale": {"domain": [-1, 1]}, "axis": null}, "y": {"datum": 0.77, "type": "quantitative", "scale": {"domain": [0, 1]}, "axis": null}, "text": {"value": "(d)"}}},
  {"data": {"name": "one"}, "mark": {"type": "text", "align": "right", "baseline": "middle"},
   "encoding": {"x": {"datum": 0.86, "type": "quantitative", "scale": {"domain": [-1, 1]}, "axis": null}, "y": {"datum": 0.26, "type": "quantitative", "scale": {"domain": [0, 1]}, "axis": null}, "text": {"value": "6.7"}}}
 ],
 "resolve": {"axis": {"x": "independent", "y": "independent"}}
},
{
 "width": 226, "height": 96,
 "layer": [
  {"data": {"name": "hatch"}, "transform": [{"filter": "datum.p=='e'"}], "mark": {"type": "area", "color": "#8c8cff"},
   "encoding": {"x": {"field": "P", "type": "quantitative", "scale": {"domain": [-1, 1]}, "axis": {"orient": "bottom", "values": [-1,-0.75,-0.5,-0.25,0,0.25,0.5,0.75,1], "labelExpr": "abs(datum.value*2-round(datum.value*2))<0.01 ? replace(format(datum.value,'.1f'),'\u2212','-') : ''", "title": "P", "titleFont": "Liberation Serif", "titleFontStyle": "italic", "titleFontWeight": "normal", "titleFontSize": 27, "titleColor": "black", "titlePadding": 2}},
    "y": {"field": "lo", "type": "quantitative", "scale": {"domain": [0, 1]}, "axis": {"orient": "left", "values": [0,0.25,0.5,0.75,1], "labelExpr": "datum.value==0||datum.value==0.5 ? format(datum.value,'.1f') : ''", "title": null}},
    "y2": {"field": "hi"}, "detail": {"field": "s", "type": "nominal"}}},
  {"data": {"name": "hatch"}, "transform": [{"filter": "datum.p=='e'"}], "mark": {"type": "rule", "color": "#000090", "strokeWidth": 1.3},
   "encoding": {"x": {"field": "P", "type": "quantitative", "scale": {"domain": [-1, 1]}, "axis": {"orient": "top", "values": [-1,-0.75,-0.5,-0.25,0,0.25,0.5,0.75,1], "labels": false, "title": null}},
    "y": {"field": "lo", "type": "quantitative", "scale": {"domain": [0, 1]}, "axis": {"orient": "right", "values": [0,0.25,0.5,0.75,1], "labels": false, "title": null}},
    "y2": {"field": "hi"}}},
  {"data": {"name": "outline"}, "transform": [{"filter": "datum.p=='e'"}], "mark": {"type": "line", "color": "#0a0aff", "strokeWidth": 2.6, "strokeJoin": "round", "strokeCap": "round"},
   "encoding": {"x": {"field": "P", "type": "quantitative", "scale": {"domain": [-1, 1]}, "axis": null}, "y": {"field": "r", "type": "quantitative", "scale": {"domain": [0, 1]}, "axis": null}, "order": {"value": null}}},
  {"data": {"name": "one"}, "mark": {"type": "text", "align": "center", "baseline": "middle"},
   "encoding": {"x": {"datum": -0.735, "type": "quantitative", "scale": {"domain": [-1, 1]}, "axis": null}, "y": {"datum": 0.77, "type": "quantitative", "scale": {"domain": [0, 1]}, "axis": null}, "text": {"value": "(e)"}}},
  {"data": {"name": "one"}, "mark": {"type": "text", "align": "right", "baseline": "middle"},
   "encoding": {"x": {"datum": 0.86, "type": "quantitative", "scale": {"domain": [-1, 1]}, "axis": null}, "y": {"datum": 0.245, "type": "quantitative", "scale": {"domain": [0, 1]}, "axis": null}, "text": {"value": "10.0"}}}
 ],
 "resolve": {"axis": {"x": "independent", "y": "independent"}}
}
]
}
